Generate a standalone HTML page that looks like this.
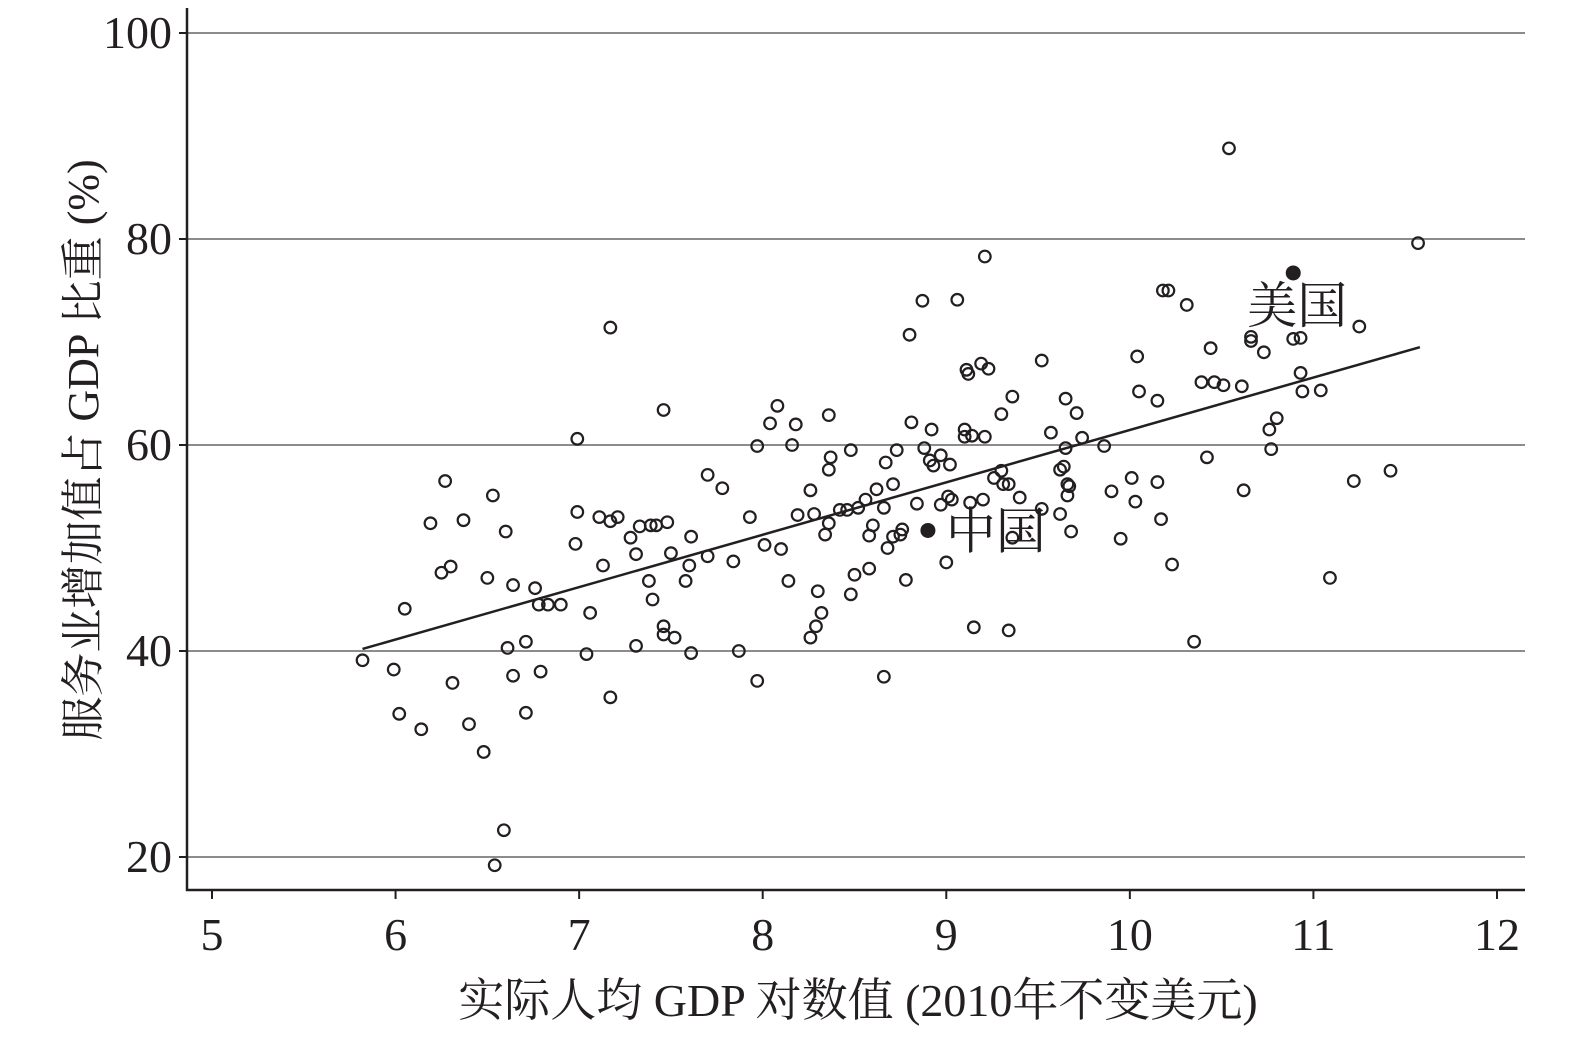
<!DOCTYPE html>
<html><head><meta charset="utf-8">
<style>
html,body{margin:0;padding:0;background:#fff;}
svg{display:block;font-family:"Liberation Serif","Noto Serif CJK SC",serif;}
</style></head>
<body>
<svg id="chart" width="1575" height="1039" viewBox="0 0 1575 1039">
<g id="grid"></g>
<g id="axes"></g>
<g id="pts"></g>
<g id="trend"></g>
<g id="hl"></g>
<text transform="translate(98,450) rotate(-90)" text-anchor="middle" font-size="44" fill="#231f20">服务业增加值占 GDP 比重 (%)</text>
<text x="858" y="1016" text-anchor="middle" font-size="46" fill="#231f20">实际人均 GDP 对数值 (2010年不变美元)</text>
</svg>
<script>
const xTicks=[5,6,7,8,9,10,11,12];
const yTicks=[20,40,60,80,100];
const xVals=[5.82,5.99,6.02,6.05,6.14,6.19,6.25,6.27,6.30,6.31,6.37,6.40,6.48,6.50,6.53,6.54,6.59,6.60,6.61,6.64,6.64,6.71,6.71,6.76,6.78,6.79,6.83,6.90,6.98,6.99,6.99,7.04,7.06,7.11,7.13,7.17,7.17,7.17,7.21,7.28,7.31,7.31,7.33,7.38,7.39,7.40,7.42,7.46,7.46,7.46,7.48,7.50,7.52,7.58,7.60,7.61,7.61,7.70,7.70,7.78,7.84,7.87,7.93,7.97,7.97,8.01,8.04,8.08,8.10,8.14,8.16,8.18,8.19,8.26,8.26,8.29,8.28,8.30,8.32,8.34,8.36,8.36,8.36,8.37,8.42,8.46,8.48,8.48,8.50,8.52,8.56,8.58,8.58,8.60,8.62,8.66,8.66,8.67,8.68,8.71,8.71,8.73,8.75,8.76,8.78,8.80,8.81,8.84,8.87,8.88,8.91,8.92,8.93,8.97,8.97,9.00,9.01,9.02,9.03,9.06,9.10,9.10,9.11,9.12,9.13,9.14,9.15,9.19,9.21,9.20,9.21,9.23,9.26,9.30,9.30,9.31,9.34,9.34,9.36,9.36,9.40,9.52,9.52,9.57,9.62,9.62,9.64,9.65,9.65,9.66,9.66,9.67,9.68,9.71,9.74,9.86,9.90,9.95,10.01,10.03,10.04,10.05,10.15,10.15,10.17,10.18,10.21,10.23,10.31,10.35,10.39,10.42,10.44,10.46,10.51,10.54,10.61,10.62,10.66,10.66,10.73,10.76,10.77,10.80,10.89,10.93,10.93,10.94,11.04,11.09,11.22,11.25,11.42,11.57];
const yVals=[39.1,38.2,33.9,44.1,32.4,52.4,47.6,56.5,48.2,36.9,52.7,32.9,30.2,47.1,55.1,19.2,22.6,51.6,40.3,37.6,46.4,40.9,34.0,46.1,44.5,38.0,44.5,44.5,50.4,60.6,53.5,39.7,43.7,53.0,48.3,52.6,71.4,35.5,53.0,51.0,40.5,49.4,52.1,46.8,52.2,45.0,52.2,63.4,42.4,41.6,52.5,49.5,41.3,46.8,48.3,51.1,39.8,49.2,57.1,55.8,48.7,40.0,53.0,59.9,37.1,50.3,62.1,63.8,49.9,46.8,60.0,62.0,53.2,55.6,41.3,42.4,53.3,45.8,43.7,51.3,57.6,62.9,52.4,58.8,53.7,53.7,59.5,45.5,47.4,53.9,54.7,51.2,48.0,52.2,55.7,53.9,37.5,58.3,50.0,51.1,56.2,59.5,51.3,51.8,46.9,70.7,62.2,54.3,74.0,59.7,58.5,61.5,58.0,54.2,59.0,48.6,55.0,58.1,54.7,74.1,61.5,60.8,67.3,66.9,54.4,60.9,42.3,67.9,60.8,54.7,78.3,67.4,56.8,63.0,57.5,56.2,56.2,42.0,64.7,51.0,54.9,68.2,53.8,61.2,57.6,53.3,57.9,59.7,64.5,56.2,55.1,56.0,51.6,63.1,60.7,59.9,55.5,50.9,56.8,54.5,68.6,65.2,56.4,64.3,52.8,75.0,75.0,48.4,73.6,40.9,66.1,58.8,69.4,66.1,65.8,88.8,65.7,55.6,70.5,70.1,69.0,61.5,59.6,62.6,70.3,70.4,67.0,65.2,65.3,47.1,56.5,71.5,57.5,79.6];
const highlightNames=["中国","美国"];
const highlightX=[8.90,10.89];
const highlightY=[51.7,76.7];
const trendX=[5.82,11.58];
const trendY=[40.2,69.5];

const NS="http://www.w3.org/2000/svg";
const X=v=>212+(v-5)*183.57;
const Y=v=>857-(v-20)*10.3;
function mk(t,a,p){const e=document.createElementNS(NS,t);for(const k in a)e.setAttribute(k,a[k]);p.appendChild(e);return e;}
const grid=document.getElementById('grid'),axes=document.getElementById('axes'),pts=document.getElementById('pts'),tr=document.getElementById('trend'),hl=document.getElementById('hl');
yTicks.forEach(t=>{
  const l=mk('line',{x1:187,x2:1525,y1:Y(t),y2:Y(t),stroke:'#8c8c8c','stroke-width':2},grid);
  
  
  const tk=mk('line',{x1:179,x2:187,y1:Y(t),y2:Y(t),stroke:'#231f20','stroke-width':2},axes);
  
  
  const tx=mk('text',{x:172,y:Y(t)+15,'text-anchor':'end','font-size':46,fill:'#231f20'},axes);
  tx.textContent=t;
  
  
});
xTicks.forEach(t=>{
  const tk=mk('line',{x1:X(t),x2:X(t),y1:890,y2:899,stroke:'#231f20','stroke-width':2},axes);
  
  
  const tx=mk('text',{x:X(t),y:950,'text-anchor':'middle','font-size':46,fill:'#231f20'},axes);
  tx.textContent=t;
  
  
});
const ya=mk('line',{x1:187,x2:187,y1:8,y2:891,stroke:'#231f20','stroke-width':2.5},axes);


const xa=mk('line',{x1:186,x2:1525,y1:890,y2:890,stroke:'#231f20','stroke-width':2.5},axes);


xVals.forEach((v,i)=>{
  const c=mk('circle',{cx:X(v),cy:Y(yVals[i]),r:5.8,fill:'none',stroke:'#231f20','stroke-width':2.2},pts);
  
  
});
const tl=mk('line',{x1:X(trendX[0]),y1:Y(trendY[0]),x2:X(trendX[1]),y2:Y(trendY[1]),stroke:'#231f20','stroke-width':2.5},tr);


highlightX.forEach((v,i)=>{
  const c=mk('circle',{cx:X(v),cy:Y(highlightY[i]),r:7.5,fill:'#231f20'},hl);
  
  
});
const l1=mk('text',{x:X(highlightX[0])+18,y:Y(highlightY[0])+18,'font-size':50,fill:'#231f20'},hl);
l1.textContent=highlightNames[0];


const l2=mk('text',{x:X(highlightX[1])-46,y:Y(highlightY[1])+50,'font-size':50,fill:'#231f20'},hl);
l2.textContent=highlightNames[1];


</script>
</body></html>
